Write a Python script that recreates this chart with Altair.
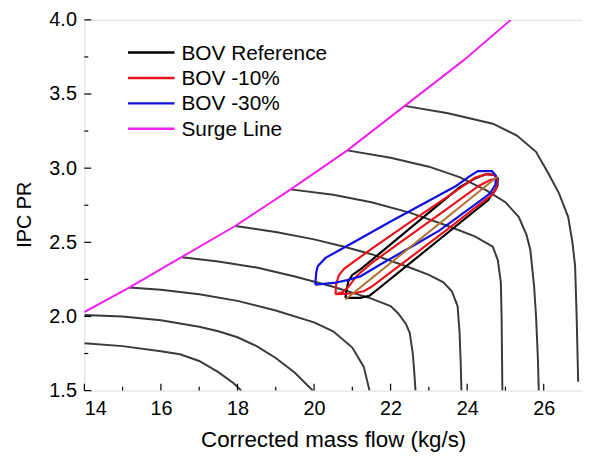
import altair as alt
import pandas as pd

# ---------------- data ----------------
x_ticks_major = [14, 16, 18, 20, 22, 24, 26]
x_ticks_minor = [15, 17, 19, 21, 23, 25]
y_ticks_major = [1.5, 2.0, 2.5, 3.0, 3.5, 4.0]
y_ticks_minor = [1.75, 2.25, 2.75, 3.25, 3.75]

# speed lines (compressor map)
speed1_x = [14.0, 15.0, 16.0, 16.5, 17.0, 17.5, 17.9, 18.1]
speed1_y = [1.82, 1.80, 1.765, 1.745, 1.70, 1.625, 1.55, 1.50]
speed2_x = [14.0, 15.0, 16.0, 17.0, 17.5, 18.0, 18.5, 19.0, 19.5, 19.97]
speed2_y = [2.01, 2.00, 1.975, 1.93, 1.90, 1.86, 1.80, 1.72, 1.62, 1.50]
speed3_x = [15.17, 16.0, 17.0, 18.0, 19.0, 20.0, 20.5, 21.0, 21.3, 21.45]
speed3_y = [2.195, 2.18, 2.15, 2.105, 2.04, 1.96, 1.90, 1.79, 1.66, 1.50]
speed4_x = [16.54, 17.5, 18.5, 19.5, 20.5, 21.5, 22.0, 22.2, 22.4, 22.5, 22.58, 22.62, 22.65]
speed4_y = [2.40, 2.37, 2.33, 2.27, 2.20, 2.12, 2.07, 2.02, 1.95, 1.89, 1.75, 1.62, 1.50]
speed5_x = [17.94, 19.0, 20.0, 20.79, 21.5, 22.5, 23.0, 23.38, 23.6, 23.75, 23.8, 23.83, 23.85]
speed5_y = [2.61, 2.57, 2.52, 2.47, 2.42, 2.33, 2.28, 2.23, 2.17, 2.07, 1.90, 1.70, 1.50]
speed6_x = [19.39, 20.5, 21.5, 22.5, 23.5, 24.2, 24.67, 24.8, 24.88, 24.9, 24.92]
speed6_y = [2.857, 2.82, 2.77, 2.70, 2.61, 2.54, 2.47, 2.38, 2.23, 2.00, 1.50]
speed7_x = [20.87, 22.0, 23.0, 23.8, 24.5, 25.0, 25.35, 25.55, 25.65, 25.75, 25.8, 25.85, 25.87]
speed7_y = [3.12, 3.07, 3.01, 2.94, 2.85, 2.77, 2.67, 2.55, 2.45, 2.20, 2.00, 1.70, 1.50]
speed8_x = [22.37, 23.5, 24.67, 25.3, 25.8, 26.13, 26.4, 26.64, 26.75, 26.82, 26.86, 26.9]
speed8_y = [3.42, 3.37, 3.30, 3.22, 3.11, 2.96, 2.83, 2.67, 2.50, 2.34, 2.00, 1.56]

# surge line
surge_x = [14.0, 15.17, 16.54, 17.94, 19.39, 20.87, 22.37, 23.92, 25.14]
surge_y = [2.03, 2.195, 2.40, 2.61, 2.857, 3.12, 3.42, 3.73, 4.00]

# BOV operating loops
ref_x = [20.82, 20.85, 20.9, 21.0, 21.2, 22.0, 23.0, 23.8, 24.2, 24.5, 24.7, 24.8,
         24.79, 24.7, 24.55, 23.5, 22.5, 21.6, 21.45, 21.2, 20.82]
ref_y = [2.125, 2.18, 2.24, 2.28, 2.315, 2.486, 2.70, 2.87, 2.93, 2.96, 2.955, 2.93,
         2.88, 2.84, 2.785, 2.566, 2.358, 2.17, 2.14, 2.125, 2.125]
bov10_x = [20.56, 20.58, 20.65, 20.8, 21.5, 22.5, 23.5, 23.9, 24.2, 24.5, 24.7, 24.78,
           24.76, 24.65, 24.44, 23.5, 22.5, 21.5, 21.3, 21.0, 20.56,
           20.75, 20.9, 21.12, 21.5, 22.5, 23.5, 24.3, 24.6, 24.78]
bov10_y = [2.15, 2.22, 2.28, 2.325, 2.455, 2.635, 2.81, 2.88, 2.935, 2.96, 2.955, 2.93,
           2.86, 2.82, 2.78, 2.59, 2.395, 2.20, 2.17, 2.155, 2.15,
           2.165, 2.20, 2.275, 2.36, 2.545, 2.73, 2.88, 2.92, 2.93]
bov30_x = [20.03, 20.06, 20.1, 20.3, 21.0, 22.0, 23.0, 23.71, 24.06, 24.28, 24.65, 24.75,
           24.74, 24.6, 24.31, 23.28, 22.68, 21.73, 21.21, 20.87, 20.52, 20.03]
bov30_y = [2.215, 2.30, 2.34, 2.395, 2.495, 2.64, 2.78, 2.88, 2.945, 2.98, 2.98, 2.95,
           2.89, 2.83, 2.775, 2.58, 2.49, 2.35, 2.27, 2.245, 2.226, 2.215]
op_x = [20.82, 24.78]
op_y = [2.115, 2.94]

legend_names = ["BOV Reference", "BOV -10%", "BOV -30%", "Surge Line"]
legend_colors = ["#000000", "#e8141c", "#1010dc", "#f020f0"]
op_color = "#b07030"
speed_color = "#3a3a3a"

# ---------------- tables ----------------
def rows(name, xs, ys):
    return [dict(series=name, x=a, y=b, order=i) for i, (a, b) in enumerate(zip(xs, ys))]

speed_rows = []
for k, (xs, ys) in enumerate([(speed1_x, speed1_y), (speed2_x, speed2_y), (speed3_x, speed3_y),
                               (speed4_x, speed4_y), (speed5_x, speed5_y), (speed6_x, speed6_y),
                               (speed7_x, speed7_y), (speed8_x, speed8_y)]):
    speed_rows += rows(f"N{k+1}", xs, ys)
speed_df = pd.DataFrame(speed_rows)

surge_df = pd.DataFrame(rows("Surge Line", surge_x, surge_y))
loops_df = pd.DataFrame(rows("BOV Reference", ref_x, ref_y)
                        + rows("BOV -10%", bov10_x, bov10_y)
                        + rows("BOV -30%", bov30_x, bov30_y))
op_df = pd.DataFrame(rows("op", op_x, op_y))
legend_df = pd.DataFrame({"name": legend_names, "color": legend_colors,
                          "i": list(range(len(legend_names)))})

# ---------------- scales / axes ----------------
W, H = 502, 374
FONT = "Liberation Sans"
xscale = alt.Scale(domain=[14, 27], nice=False, zero=False)
yscale = alt.Scale(domain=[1.5, 4.0], nice=False, zero=False)
x_axis = alt.Axis(values=x_ticks_major, format="d", ticks=False, tickSize=0, domain=False,
                  grid=False, labelFontSize=20, labelPadding=8, labelColor="black",
                  labelFont=FONT, title="Corrected mass flow (kg/s)", titleFontSize=22.5,
                  titleFontWeight="normal", titleFont=FONT, titleColor="black",
                  titleBaseline="alphabetic", titleY=56)
y_axis = alt.Axis(values=y_ticks_major, format=".1f", ticks=False, tickSize=0, domain=False,
                  grid=False, labelFontSize=20, labelPadding=8, labelColor="black",
                  labelFont=FONT, title="IPC PR", titleFontSize=20, titleFontWeight="normal",
                  titleFont=FONT, titleColor="black", titleBaseline="alphabetic",
                  titleX=-54, titleY=196)


def X(f):
    return alt.X(f, type="quantitative", scale=xscale, axis=x_axis)


def Y(f):
    return alt.Y(f, type="quantitative", scale=yscale, axis=y_axis)


speed = alt.Chart(speed_df).mark_line(color=speed_color, strokeWidth=2, clip=True).encode(
    x=X("x"), y=Y("y"), detail="series:N", order="order:Q")

surge = alt.Chart(surge_df).mark_line(color=legend_colors[3], strokeWidth=2, clip=True).encode(
    x=X("x"), y=Y("y"), order="order:Q")

loops = alt.Chart(loops_df).mark_line(strokeWidth=2.2, clip=True).encode(
    x=X("x"), y=Y("y"), order="order:Q",
    color=alt.Color("series:N", scale=alt.Scale(domain=legend_names[:3], range=legend_colors[:3]),
                    legend=None))

op = alt.Chart(op_df).mark_line(color=op_color, strokeWidth=2, clip=True).encode(
    x=X("x"), y=Y("y"), order="order:Q")

xt_major = alt.Chart(pd.DataFrame({"v": x_ticks_major})).mark_rule(color="black", strokeWidth=1.2).encode(
    x=X("v"), y=alt.value(H), y2=alt.value(H - 7))
xt_minor = alt.Chart(pd.DataFrame({"v": x_ticks_minor})).mark_rule(color="black", strokeWidth=1.2).encode(
    x=X("v"), y=alt.value(H), y2=alt.value(H - 4))
yt_major = alt.Chart(pd.DataFrame({"v": y_ticks_major})).mark_rule(color="black", strokeWidth=1.2).encode(
    y=Y("v"), x=alt.value(0), x2=alt.value(7))
yt_minor = alt.Chart(pd.DataFrame({"v": y_ticks_minor})).mark_rule(color="black", strokeWidth=1.2).encode(
    y=Y("v"), x=alt.value(0), x2=alt.value(4))

leg_base = alt.Chart(legend_df).transform_calculate(py="33 + datum.i * 25.6")
leg_lines = leg_base.mark_rule(strokeWidth=2.4).encode(
    x=alt.value(44), x2=alt.value(91),
    y=alt.Y("py:Q", scale=None, axis=None),
    color=alt.Color("color:N", scale=None, legend=None))
leg_text = leg_base.mark_text(align="left", baseline="middle", fontSize=21, font=FONT,
                              color="black", dy=1).encode(
    x=alt.value(98), y=alt.Y("py:Q", scale=None, axis=None), text="name:N")

chart = alt.layer(speed, surge, loops, op, xt_major, xt_minor, yt_major, yt_minor,
                  leg_lines, leg_text).properties(
    width=W, height=H,
    padding={"left": 77, "top": 10, "right": 0, "bottom": 64},
    autosize=alt.AutoSizeParams(type="none"),
).configure_view(stroke="black", strokeWidth=1.5, fill="white").configure(
    font=FONT, background="white")

chart.save("out.html", embed_options={"renderer": "svg", "actions": False})
